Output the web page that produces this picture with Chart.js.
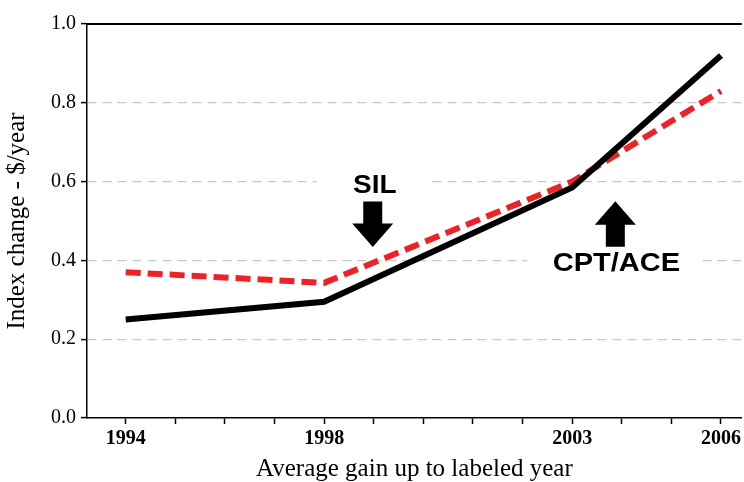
<!DOCTYPE html>
<html>
<head>
<meta charset="utf-8">
<script src="https://cdn.jsdelivr.net/npm/chart.js@4/dist/chart.umd.min.js"></script>
<style>
  html, body { margin: 0; padding: 0; background: #fff; }
  #wrap { width: 744px; height: 482px; overflow: hidden; }
</style>
</head>
<body>
<div id="wrap"><canvas id="c" width="744" height="482"></canvas></div>
<script>
// ---- data ----
const years = [1994, 1998, 2003, 2006];
const solidSeries = [0.25, 0.295, 0.585, 0.92];
const dashedSeries = [0.37, 0.343, 0.60, 0.83];
const labeledYears = [1994, 1998, 2003, 2006];
const yTickLabels = ['0.0', '0.2', '0.4', '0.6', '0.8', '1.0'];
const annotationLabels = ['SIL', 'CPT/ACE'];

const serif = '"Liberation Serif", "Times New Roman", serif';
const sans = '"Liberation Sans", Arial, sans-serif';

function drawArrow(ctx, cx, tipY, dir) {
  // dir: 1 = pointing down, -1 = pointing up
  const headW = 20.5, headH = 23.5, shaftW = 9.5, shaftH = 22;
  ctx.beginPath();
  ctx.moveTo(cx, tipY);
  ctx.lineTo(cx - headW, tipY - dir * headH);
  ctx.lineTo(cx - shaftW, tipY - dir * headH);
  ctx.lineTo(cx - shaftW, tipY - dir * (headH + shaftH));
  ctx.lineTo(cx + shaftW, tipY - dir * (headH + shaftH));
  ctx.lineTo(cx + shaftW, tipY - dir * headH);
  ctx.lineTo(cx + headW, tipY - dir * headH);
  ctx.closePath();
  ctx.fill();
}

function stretchedText(ctx, text, cx, baseY, sx) {
  ctx.save();
  ctx.translate(cx, baseY);
  ctx.scale(sx, 1);
  ctx.textAlign = 'center';
  ctx.textBaseline = 'alphabetic';
  ctx.fillText(text, 0, 0);
  ctx.restore();
}

const annotPlugin = {
  id: 'annot',
  beforeDatasetsDraw(chart) {
    const ctx = chart.ctx;
    const xs = chart.scales.x, ys = chart.scales.y;
    const area = chart.chartArea;
    ctx.save();
    // top frame line
    ctx.strokeStyle = '#000';
    ctx.lineWidth = 2;
    ctx.beginPath();
    ctx.moveTo(area.left, area.top);
    ctx.lineTo(area.right, area.top);
    ctx.stroke();

    // SIL annotation
    const sx = xs.getPixelForValue(1999);
    ctx.fillStyle = '#fff';
    ctx.fillRect(sx - 57, ys.getPixelForValue(0.64), 115, ys.getPixelForValue(0.43) - ys.getPixelForValue(0.64));
    ctx.fillStyle = '#000';
    ctx.font = 'bold 25px ' + sans;
    stretchedText(ctx, annotationLabels[0], sx + 1, ys.getPixelForValue(0.571), 1.12);
    drawArrow(ctx, sx - 1, ys.getPixelForValue(0.434), 1);

    // CPT/ACE annotation
    const cx = xs.getPixelForValue(2003.87);
    ctx.fillStyle = '#fff';
    ctx.fillRect(cx - 88, ys.getPixelForValue(0.56), 175, ys.getPixelForValue(0.34) - ys.getPixelForValue(0.56));
    ctx.fillStyle = '#000';
    stretchedText(ctx, annotationLabels[1], cx + 1, ys.getPixelForValue(0.372), 1.16);
    drawArrow(ctx, cx, ys.getPixelForValue(0.55), -1);
    ctx.restore();
  }
};

new Chart(document.getElementById('c'), {
  type: 'line',
  data: {
    datasets: [
      {
        label: 'Solid',
        data: years.map((y, i) => ({ x: y, y: solidSeries[i] })),
        borderColor: '#000',
        borderWidth: 6,
        pointRadius: 0,
        tension: 0,
        fill: false,
        borderCapStyle: 'butt',
        borderJoinStyle: 'miter'
      },
      {
        label: 'Dashed',
        data: years.map((y, i) => ({ x: y, y: dashedSeries[i] })),
        borderColor: '#ec2227',
        borderWidth: 6,
        borderDash: [15, 7],
        pointRadius: 0,
        tension: 0,
        fill: false,
        borderCapStyle: 'butt'
      }
    ]
  },
  options: {
    responsive: false,
    animation: false,
    events: [],
    layout: { padding: { top: 24, right: 0, left: 0, bottom: 0 } },
    plugins: { legend: { display: false }, tooltip: { enabled: false }, title: { display: false } },
    scales: {
      x: {
        type: 'linear',
        min: 1993.22,
        max: 2006.42,
        afterFit(s) { s.height = 64; },
        afterBuildTicks(s) {
          const t = [];
          for (let y = 1994; y <= 2006; y++) t.push({ value: y });
          s.ticks = t;
        },
        ticks: {
          autoSkip: false,
          maxRotation: 0,
          includeBounds: false,
          padding: 3,
          color: '#000',
          font: { family: serif, size: 20, weight: 'bold' },
          callback: v => labeledYears.includes(v) ? String(v) : ''
        },
        grid: {
          drawOnChartArea: false,
          drawTicks: true,
          tickLength: 6,
          tickColor: '#000',
          tickWidth: 1.5
        },
        border: { display: true, color: '#000', width: 1.5 },
        title: {
          display: true,
          text: 'Average gain up to labeled year',
          color: '#000',
          font: { family: serif, size: 25 },
          padding: { top: 0, bottom: -2 }
        }
      },
      y: {
        min: 0,
        max: 1,
        afterFit(s) { s.width = 87; },
        ticks: {
          stepSize: 0.2,
          padding: 5,
          color: '#000',
          font: { family: serif, size: 20 },
          callback: (v) => yTickLabels[Math.round(v * 5)]
        },
        grid: {
          color: ctx => (ctx.tick && (ctx.tick.value < 0.01 || ctx.tick.value > 0.99)) ? 'rgba(0,0,0,0)' : '#c8c8c8',
          lineWidth: 1.2,
          drawTicks: true,
          tickLength: 6,
          tickColor: '#000',
          tickWidth: 1.5,
          tickBorderDash: []
        },
        border: { display: true, color: '#000', width: 1.5, dash: [9, 6] },
        title: {
          display: true,
          text: 'Index change - $/year',
          color: '#000',
          font: { family: serif, size: 25 },
          padding: { top: 2, bottom: 0 }
        }
      }
    }
  },
  plugins: [annotPlugin]
});
</script>
</body>
</html>
